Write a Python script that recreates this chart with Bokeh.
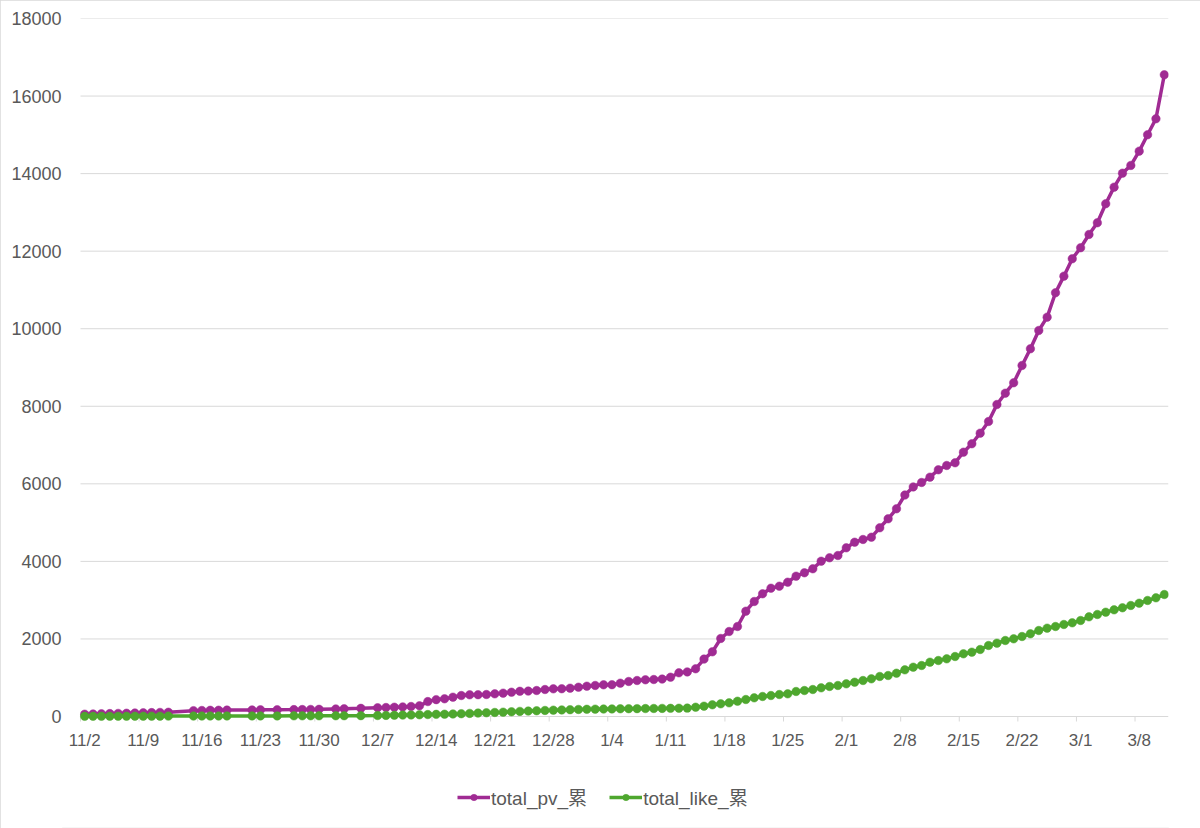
from datetime import date
from bokeh.plotting import figure
from bokeh.models import Range1d, FixedTicker, Legend, LegendItem, ColumnDataSource
from bokeh.embed import file_html
from bokeh.resources import INLINE

# ---- data ----
dates = [
    "11/2", "11/3", "11/4", "11/5", "11/6", "11/7", "11/8", "11/9", "11/10", "11/11", "11/12",
    "11/15", "11/16", "11/17", "11/18", "11/19", "11/22", "11/23", "11/25",
    "11/27", "11/28", "11/29", "11/30",
    "12/2", "12/3", "12/5", "12/7", "12/8", "12/9", "12/10", "12/11", "12/12", "12/13",
    "12/14", "12/15", "12/16", "12/17", "12/18", "12/19", "12/20", "12/21", "12/22",
    "12/23", "12/24", "12/25", "12/26", "12/27", "12/28", "12/29", "12/30", "12/31",
    "1/1", "1/2", "1/3", "1/4", "1/5", "1/6", "1/7", "1/8", "1/9", "1/10", "1/11",
    "1/12", "1/13", "1/14", "1/15", "1/16", "1/17", "1/18", "1/19", "1/20", "1/21",
    "1/22", "1/23", "1/24", "1/25", "1/26", "1/27", "1/28", "1/29", "1/30", "1/31",
    "2/1", "2/2", "2/3", "2/4", "2/5", "2/6", "2/7", "2/8", "2/9", "2/10", "2/11",
    "2/12", "2/13", "2/14", "2/15", "2/16", "2/17", "2/18", "2/19", "2/20", "2/21",
    "2/22", "2/23", "2/24", "2/25", "2/26", "2/27", "2/28",
    "3/1", "3/2", "3/3", "3/4", "3/5", "3/6", "3/7", "3/8", "3/9", "3/10", "3/11",
]

total_pv = [
    60, 65, 70, 75, 80, 85, 90, 95, 100, 105, 110,
    150, 155, 160, 162, 165, 170, 172, 175,
    178, 180, 182, 185,
    195, 200, 210, 225, 232, 240, 248, 258, 275, 385,
    435, 456, 498, 541, 559, 562, 567, 584, 602,
    627, 650, 655, 670, 696, 713, 716, 730, 756,
    782, 800, 817, 820, 860, 903, 928, 946, 954, 965, 1014,
    1127, 1150, 1230, 1480, 1668, 2012, 2192, 2321, 2716, 2966,
    3164, 3309, 3361, 3464, 3618, 3706, 3809, 4005, 4093, 4152,
    4350, 4495, 4565, 4624, 4866, 5098, 5356, 5712, 5920, 6035, 6172,
    6362, 6473, 6543, 6817, 7033, 7307, 7608, 8046, 8338, 8606,
    9052, 9483, 9955, 10298, 10927, 11356, 11804,
    12088, 12431, 12733, 13223, 13651, 14012, 14210, 14579, 15002, 15415, 16549,
]

total_like = [
    5, 5, 6, 6, 7, 7, 8, 8, 9, 9, 10,
    12, 12, 13, 13, 14, 15, 15, 16,
    17, 17, 18, 18,
    19, 20, 22, 25, 28, 32, 36, 40, 44, 50,
    55, 60, 65, 72, 80, 88, 96, 104, 112,
    122, 132, 140, 148, 156, 164, 170, 176, 182,
    186, 190, 193, 196, 199, 201, 203, 205, 207, 209, 211,
    213, 216, 240, 266, 301, 327, 352, 395, 438, 481,
    516, 541, 567, 584, 645, 670, 696, 739, 774, 800,
    842, 885, 928, 971, 1032, 1057, 1117, 1203, 1272, 1315, 1401,
    1444, 1487, 1547, 1616, 1659, 1728, 1831, 1891, 1960, 2003,
    2063, 2132, 2218, 2278, 2321, 2373, 2416,
    2476, 2570, 2631, 2690, 2751, 2803, 2863, 2922, 2992, 3061, 3146,
]

tick_labels = ["11/2", "11/9", "11/16", "11/23", "11/30", "12/7", "12/14", "12/21",
               "12/28", "1/4", "1/11", "1/18", "1/25", "2/1", "2/8", "2/15", "2/22",
               "3/1", "3/8"]
y_ticks = [0, 2000, 4000, 6000, 8000, 10000, 12000, 14000, 16000, 18000]

series_names = ["total_pv_累", "total_like_累"]
series_colors = ["#A02B93", "#4EA72E"]

# season spans Nov (2024) .. Mar (2025)
def to_date(s):
    m, d = (int(t) for t in s.split("/"))
    return date(2024 if m >= 11 else 2025, m, d)

start = to_date(dates[0])
def day_index(s):
    return (to_date(s) - start).days

x = [day_index(s) for s in dates]
tick_x = [day_index(s) for s in tick_labels]
last_day = max(x)

FONT = "Liberation Sans, 'Noto Sans CJK JP'"
GRAY_TXT = "#595959"
GRID = "#d9d9d9"

W, H = 1200, 828
TOP, ZERO, BOTTOM = 18, 716, 827      # pixel rows of 18000, of 0 and of the frame end
PLOT_L, PLOT_R, FRAME_L = 80, 1168, 62  # plot area columns; frame starts a bit further left
y_per_px = y_ticks[-1] / (ZERO - TOP)
day_per_px = (last_day + 1) / (PLOT_R - PLOT_L)
x_lo = -0.5
x_hi = last_day + 0.5

p = figure(width=W, height=H, output_backend="svg", toolbar_location=None,
           x_range=Range1d(x_lo - (PLOT_L - FRAME_L) * day_per_px, x_hi),
           y_range=Range1d(-(BOTTOM - ZERO) * y_per_px, y_ticks[-1]),
           min_border_left=FRAME_L, min_border_right=W - PLOT_R, min_border_top=TOP,
           min_border_bottom=H - BOTTOM)
p.outline_line_color = None
p.background_fill_color = "white"
p.border_fill_color = "white"
p.styles = {"outline": "1px solid #d9d9d9", "outline-offset": "-1px"}

# y axis
p.yaxis.ticker = FixedTicker(ticks=y_ticks)
p.yaxis.axis_line_color = None
p.yaxis.major_tick_line_color = None
p.yaxis.minor_tick_line_color = None
p.yaxis.major_tick_out = 0
p.yaxis.major_label_standoff = 1
p.yaxis.major_label_text_font = FONT
p.yaxis.major_label_text_font_size = "18px"
p.yaxis.major_label_text_color = GRAY_TXT

# x axis drawn on the zero line
xa = p.xaxis[0]
xa.fixed_location = 0
xa.ticker = FixedTicker(ticks=tick_x)
xa.major_label_overrides = {t: lab for t, lab in zip(tick_x, tick_labels)}
xa.axis_line_color = None
xa.major_tick_line_color = None
xa.minor_tick_line_color = None
xa.major_tick_out = 0
xa.major_tick_in = 0
xa.major_label_standoff = 14
xa.major_label_text_font = FONT
xa.major_label_text_font_size = "17px"
xa.major_label_text_color = GRAY_TXT

# horizontal gridlines over the plot area only
p.xgrid.grid_line_color = None
p.ygrid.grid_line_color = None
p.segment(x0=[x_lo] * len(y_ticks), x1=[x_hi] * len(y_ticks), y0=y_ticks, y1=y_ticks,
          line_color=GRID, line_width=1)

# tick marks at the left boundary of each labelled date slot
tb = [t - 0.5 for t in tick_x]
p.segment(x0=tb, x1=tb, y0=[0] * len(tb), y1=[-5 * y_per_px] * len(tb),
          line_color=GRID, line_width=1)

src = ColumnDataSource(dict(x=x, pv=total_pv, like=total_like))
items = []
for col, name, color in zip(["pv", "like"], series_names, series_colors):
    lr = p.line("x", col, source=src, line_color=color, line_width=3.5)
    sr = p.scatter("x", col, source=src, size=8.5, fill_color=color, line_color=color,
                   line_width=0.5, marker="circle")
    items.append(LegendItem(label=name, renderers=[lr, sr]))

legend = Legend(items=items, location=(457 - FRAME_L, 17), orientation="horizontal",
                glyph_width=33, glyph_height=16, label_text_font=FONT,
                label_text_font_size="19px", label_text_color=GRAY_TXT,
                label_standoff=1, spacing=22, padding=0, margin=0,
                border_line_color=None, background_fill_alpha=0)
p.add_layout(legend)

open("out.html", "w").write(file_html(p, INLINE))
